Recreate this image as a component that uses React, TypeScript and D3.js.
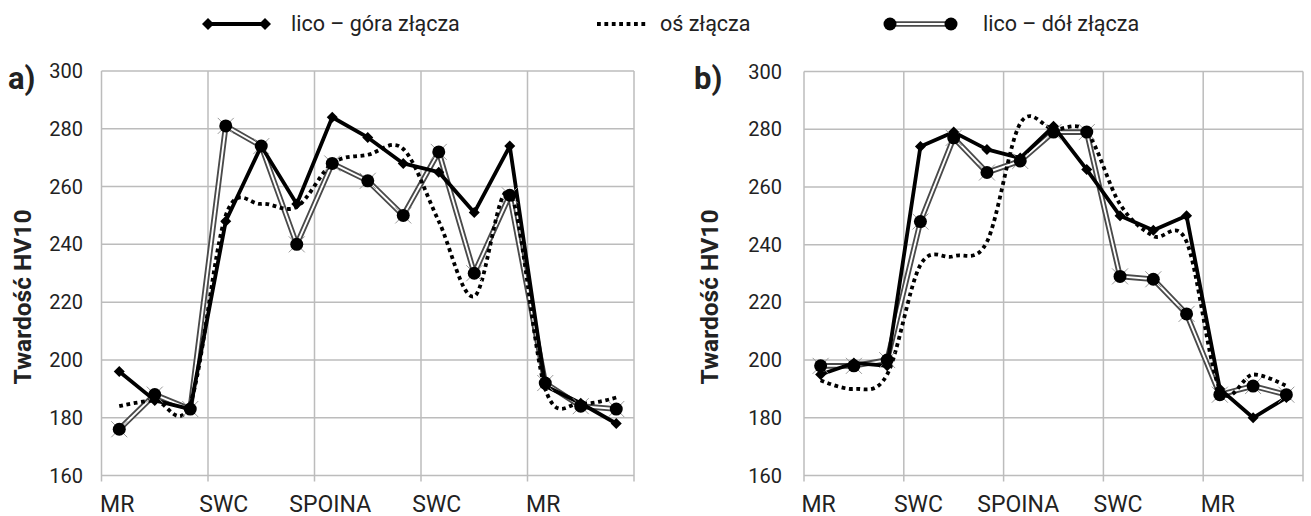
import React, { useEffect, useRef } from 'react';
import * as d3 from 'd3';

// 15 measuring points across the joint, labelled every third one
const categories = ['MR', '', '', 'SWC', '', '', 'SPOINA', '', '', 'SWC', '', '', 'MR', '', ''];
const yTicks = [160, 180, 200, 220, 240, 260, 280, 300];

// panel a)
const aGora = [196, 186, 183, 248, 274, 254, 284, 277, 268, 265, 251, 274, 191, 185, 178];
const aOs = [184, 186, 185, 250, 254, 253, 268, 271, 273, 248, 222, 258, 190, 185, 187];
const aDol = [176, 188, 183, 281, 274, 240, 268, 262, 250, 272, 230, 257, 192, 184, 183];

// panel b)
const bGora = [195, 199, 198, 274, 279, 273, 270, 281, 266, 250, 245, 250, 190, 180, 187];
const bOs = [193, 190, 195, 233, 236, 241, 282, 280, 279, 254, 243, 241, 190, 195, 191];
const bDol = [198, 198, 200, 248, 277, 265, 269, 279, 279, 229, 228, 216, 188, 191, 188];

const seriesNames = ['lico – góra złącza', 'oś złącza', 'lico – dół złącza'];

const FONT = 'Roboto, "Noto Sans", sans-serif';
const TXT = '#222';
const GRID = '#bcbcbc';

function diamond(g, px, py, s) {
    g.append('path')
        .attr('d', `M${px},${py - s}L${px + s},${py}L${px},${py + s}L${px - s},${py}Z`)
        .attr('fill', '#000');
}

function circleMark(g, px, py, r, cross) {
    if (cross) {
        g.append('path')
            .attr('d', `M${px - 8},${py - 8}L${px + 8},${py + 8}M${px - 8},${py + 8}L${px + 8},${py - 8}`)
            .attr('stroke', '#9a9a9a')
            .attr('stroke-width', 1);
    }
    g.append('circle').attr('cx', px).attr('cy', py).attr('r', r).attr('fill', '#000');
}

function App() {
    const svgRef = useRef(null);

    useEffect(() => {
        const svg = d3.select(svgRef.current);
        svg.selectAll('*').remove();

        const panels = [
            { label: 'a)', left: 101.5, right: 634, top: 71, bottom: 475.5, labelX: 8, titleX: 31, tickX: 83, gora: aGora, os: aOs, dol: aDol },
            { label: 'b)', left: 804, right: 1303, top: 71.5, bottom: 475.5, labelX: 694, titleX: 718, tickX: 782, gora: bGora, os: bOs, dol: bDol }
        ];

        panels.forEach(p => {
            const g = svg.append('g');
            const x = d3.scaleBand().domain(d3.range(categories.length)).range([p.left, p.right]);
            const y = d3.scaleLinear().domain([160, 300]).range([p.bottom, p.top]);
            const cx = i => x(i) + x.bandwidth() / 2;

            // grid
            yTicks.forEach(v => {
                g.append('line')
                    .attr('x1', p.left).attr('x2', p.right)
                    .attr('y1', y(v)).attr('y2', y(v))
                    .attr('stroke', GRID).attr('stroke-width', 1.5);
            });
            const vx = categories.map((c, i) => i).filter(i => i % 3 === 0).map(i => x(i)).concat([p.right]);
            vx.forEach(xx => {
                g.append('line')
                    .attr('x1', xx).attr('x2', xx)
                    .attr('y1', p.top).attr('y2', p.bottom + 6)
                    .attr('stroke', GRID).attr('stroke-width', 1.5);
            });

            // y tick labels
            yTicks.forEach(v => {
                g.append('text')
                    .attr('x', p.tickX).attr('y', y(v)).attr('dy', '0.35em')
                    .attr('text-anchor', 'end')
                    .attr('font-family', FONT).attr('font-size', 20).attr('fill', TXT)
                    .text(v);
            });

            // x labels
            categories.forEach((c, i) => {
                if (!c) return;
                g.append('text')
                    .attr('x', cx(i) - 2).attr('y', 511.5)
                    .attr('text-anchor', 'middle')
                    .attr('font-family', FONT).attr('font-size', 23).attr('fill', TXT)
                    .text(c);
            });

            // axis title + panel letter
            g.append('text')
                .attr('transform', `translate(${p.titleX},297) rotate(-90)`)
                .attr('text-anchor', 'middle')
                .attr('font-family', FONT).attr('font-size', 24.5).attr('font-weight', 'bold').attr('fill', TXT)
                .text('Twardość HV10');
            g.append('text')
                .attr('x', p.labelX).attr('y', 89)
                .attr('font-family', FONT).attr('font-size', 31).attr('font-weight', 'bold').attr('fill', TXT)
                .text(p.label);

            const line = d3.line().x((d, i) => cx(i)).y(d => y(d));
            const smooth = d3.line().x((d, i) => cx(i)).y(d => y(d)).curve(d3.curveCardinal.tension(0));

            // lico - dół (double line)
            g.append('path').attr('d', line(p.dol)).attr('fill', 'none')
                .attr('stroke', '#4a4a4a').attr('stroke-width', 5.6).attr('stroke-linejoin', 'round');
            g.append('path').attr('d', line(p.dol)).attr('fill', 'none')
                .attr('stroke', '#fff').attr('stroke-width', 1.9).attr('stroke-linejoin', 'round');

            // lico - góra
            g.append('path').attr('d', line(p.gora)).attr('fill', 'none')
                .attr('stroke', '#000').attr('stroke-width', 3.8).attr('stroke-linejoin', 'round');

            // oś (dotted, smoothed)
            g.append('path').attr('d', smooth(p.os)).attr('fill', 'none')
                .attr('stroke', '#000').attr('stroke-width', 3.8).attr('stroke-dasharray', '3.8,3.6');

            p.dol.forEach((v, i) => circleMark(g, cx(i), y(v), 6.5, true));
            p.gora.forEach((v, i) => diamond(g, cx(i), y(v), 5.5));
        });

        // legend
        const lg = svg.append('g');
        const ly = 24;
        lg.append('line').attr('x1', 208).attr('x2', 265).attr('y1', ly).attr('y2', ly)
            .attr('stroke', '#000').attr('stroke-width', 3.8);
        diamond(lg, 208, ly, 6);
        diamond(lg, 265, ly, 6);

        lg.append('line').attr('x1', 597).attr('x2', 647).attr('y1', ly).attr('y2', ly)
            .attr('stroke', '#000').attr('stroke-width', 3.8).attr('stroke-dasharray', '3.8,3.6');

        lg.append('line').attr('x1', 890).attr('x2', 951).attr('y1', ly).attr('y2', ly)
            .attr('stroke', '#4a4a4a').attr('stroke-width', 5.6);
        lg.append('line').attr('x1', 890).attr('x2', 951).attr('y1', ly).attr('y2', ly)
            .attr('stroke', '#fff').attr('stroke-width', 1.9);
        circleMark(lg, 890, ly, 6.5, false);
        circleMark(lg, 951, ly, 6.5, false);

        [291, 660, 983].forEach((tx, k) => {
            lg.append('text')
                .attr('x', tx).attr('y', 31)
                .attr('font-family', FONT).attr('font-size', 21.5).attr('fill', TXT)
                .text(seriesNames[k]);
        });
    }, []);

    return (
        <svg ref={svgRef} width={1311} height={516}
            style={{ position: 'absolute', left: 0, top: 0, background: '#fff' }} />
    );
}

export default App;
